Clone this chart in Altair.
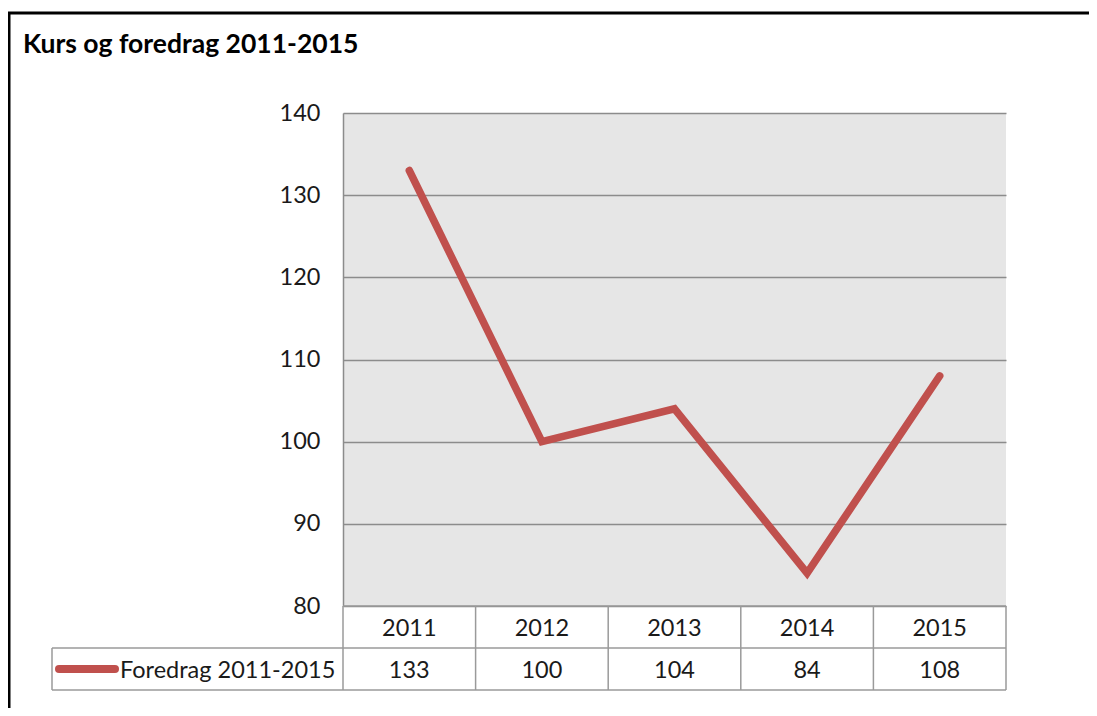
import altair as alt
import pandas as pd

# ---- data ----
years = [2011, 2012, 2013, 2014, 2015]
values = [133, 100, 104, 84, 108]
series_name = "Foredrag 2011-2015"
chart_title = "Kurs og foredrag 2011-2015"
y_ticks = [80, 90, 100, 110, 120, 130, 140]

df = pd.DataFrame({"year": years, "value": values})
bounds = pd.DataFrame({"b": [y - 0.5 for y in years] + [years[-1] + 0.5]})
title_df = pd.DataFrame({"t": [chart_title]})
legend_df = pd.DataFrame({"t": [series_name]})

FONT = "Lato"
RED = "#c0504d"
GRID = "#8c8c8c"
TABLE = "#9a9a9a"
TXT = "#1a1a1a"
FS = 23.5

W, H = 663, 493
ROW1_MID = H + 22.5
ROW2_MID = H + 64.5

xs = alt.Scale(domain=[years[0] - 0.5, years[-1] + 0.5], nice=False, zero=False)
ys = alt.Scale(domain=[80, 140], nice=False, zero=False)

line = alt.Chart(df).mark_line(
    color=RED, strokeWidth=7.5, strokeCap="round", strokeJoin="miter"
).encode(
    x=alt.X("year:Q", scale=xs, axis=None),
    y=alt.Y(
        "value:Q",
        scale=ys,
        axis=alt.Axis(
            values=y_ticks,
            grid=True,
            gridColor=GRID,
            gridWidth=1.5,
            domain=True,
            domainColor=GRID,
            domainWidth=1.5,
            ticks=False,
            labelPadding=23,
            labelFont=FONT,
            labelFontSize=FS,
            labelColor=TXT,
            title=None,
        ),
    ),
)

# table vertical lines (column boundaries)
vlines = alt.Chart(bounds).mark_rule(color=TABLE, strokeWidth=1.5).encode(
    x=alt.X("b:Q", scale=xs),
    y=alt.value(H),
    y2=alt.value(H + 84),
)

# table horizontal lines and legend cell border
hline_top = alt.Chart(title_df).mark_rule(color=TABLE, strokeWidth=1.5).encode(
    x=alt.value(0), x2=alt.value(W), y=alt.value(H)
)
hline_mid = alt.Chart(title_df).mark_rule(color=TABLE, strokeWidth=1.5).encode(
    x=alt.value(-291), x2=alt.value(W), y=alt.value(H + 42)
)
hline_bot = alt.Chart(title_df).mark_rule(color=TABLE, strokeWidth=1.5).encode(
    x=alt.value(-291), x2=alt.value(W), y=alt.value(H + 84)
)
legend_left = alt.Chart(title_df).mark_rule(color=TABLE, strokeWidth=1.5).encode(
    x=alt.value(-291), y=alt.value(H + 42), y2=alt.value(H + 84)
)

# year row
year_text = alt.Chart(df).mark_text(
    font=FONT, fontSize=FS, color=TXT, baseline="middle", align="center"
).encode(
    x=alt.X("year:Q", scale=xs),
    y=alt.value(ROW1_MID),
    text=alt.Text("year:N"),
)

# value row
value_text = alt.Chart(df).mark_text(
    font=FONT, fontSize=FS, color=TXT, baseline="middle", align="center"
).encode(
    x=alt.X("year:Q", scale=xs),
    y=alt.value(ROW2_MID),
    text=alt.Text("value:Q"),
)

# legend key
legend_key = alt.Chart(legend_df).mark_rule(
    color=RED, strokeWidth=8, strokeCap="round"
).encode(x=alt.value(-284), x2=alt.value(-228), y=alt.value(H + 63))

legend_text = alt.Chart(legend_df).mark_text(
    font=FONT, fontSize=FS, color=TXT, baseline="middle", align="left"
).encode(x=alt.value(-223), y=alt.value(ROW2_MID), text="t:N")

# title
title = alt.Chart(title_df).mark_text(
    font=FONT, fontSize=26.5, fontWeight="bold", color="#000000",
    baseline="alphabetic", align="left"
).encode(x=alt.value(-320), y=alt.value(-60), text="t:N")

# outer frame (top and left)
frame_top = alt.Chart(title_df).mark_rule(color="#000000", strokeWidth=3).encode(
    x=alt.value(-335), x2=alt.value(746), y=alt.value(-100)
)
frame_left = alt.Chart(title_df).mark_rule(color="#000000", strokeWidth=3).encode(
    x=alt.value(-334), y=alt.value(-101), y2=alt.value(595)
)

chart = alt.layer(
    line, vlines, hline_top, hline_mid, hline_bot, legend_left,
    year_text, value_text, legend_key, legend_text, title,
    frame_top, frame_left,
).properties(
    width=W,
    height=H,
    autosize=alt.AutoSizeParams(type="none"),
    padding={"left": 335, "top": 105, "right": 83, "bottom": 102},
    background="white",
).configure_view(fill="#e6e6e6", stroke=None)

chart.save("out.html", embed_options={"renderer": "svg", "actions": False})
